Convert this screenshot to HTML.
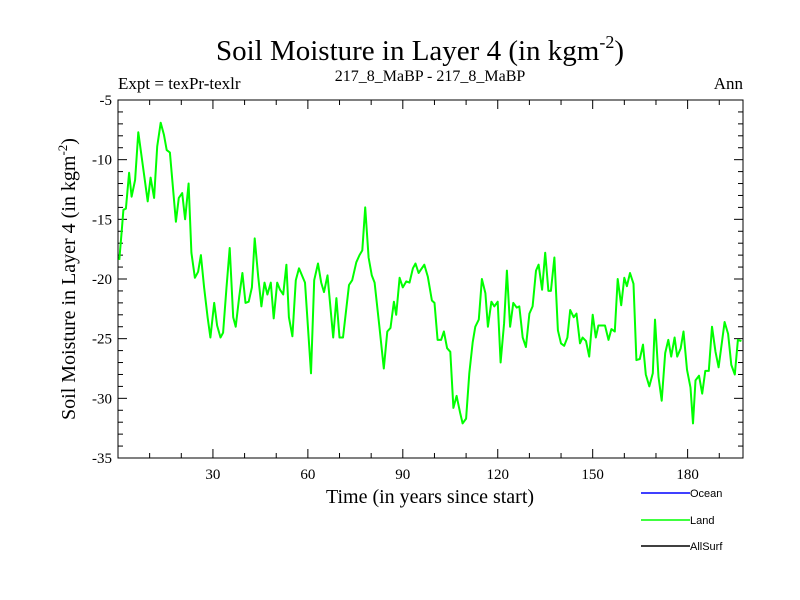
<!DOCTYPE html>
<html><head><meta charset="utf-8"><style>
body{margin:0;background:#fff}
svg{display:block}
text{font-family:"Liberation Serif",serif;fill:#000}
.leg{font-family:"Liberation Sans",sans-serif;font-size:11px}
</style></head><body>
<svg id="chart" width="800" height="600">
<text x="420" y="60" font-size="29" text-anchor="middle">Soil Moisture in Layer 4 (in kgm<tspan font-size="18" dy="-12">-2</tspan><tspan dy="12">)</tspan></text>
<text x="118" y="89" font-size="17">Expt = texPr-texlr</text>
<text x="430" y="81" font-size="16" text-anchor="middle">217_8_MaBP - 217_8_MaBP</text>
<text x="743" y="89" font-size="17" text-anchor="end">Ann</text>
<text transform="translate(75,279) rotate(-90)" font-size="20" text-anchor="middle">Soil Moisture in Layer 4 (in kgm<tspan font-size="13" dy="-8">-2</tspan><tspan dy="8">)</tspan></text>
<text x="430" y="503" font-size="20" text-anchor="middle">Time (in years since start)</text>
<g id="axes"></g>
<g id="series"></g>
<g>
<line x1="641" y1="493" x2="690" y2="493" stroke="#0000ff" stroke-width="1.5"/>
<text class="leg" x="690" y="497">Ocean</text>
<line x1="641" y1="520" x2="690" y2="520" stroke="#00ff00" stroke-width="1.5"/>
<text class="leg" x="690" y="524">Land</text>
<line x1="641" y1="546" x2="690" y2="546" stroke="#000" stroke-width="1.5"/>
<text class="leg" x="690" y="550">AllSurf</text>
</g>
</svg>
<script>
const years=[0.4,1.2,1.7,2.5,3.5,4.3,5.4,6.4,7.5,9.4,10.3,11.4,12.4,13.5,14.5,15.4,16.4,18.3,19.2,20.3,21.2,22.3,23.2,24.3,25.3,26.2,27.2,28.3,29.2,30.4,31.3,32.4,33.2,34.3,35.3,36.4,37.2,38.3,39.3,40.3,41.3,42.3,43.2,44.3,45.3,46.3,47.2,48.3,49.2,50.3,51.2,52.2,53.2,54,55.1,56.2,57.2,59.1,61,62,63.2,64.2,65.1,66.2,68,69,70,71.1,73,74,75.3,76.3,77.2,78.1,79.2,80.2,81.1,82.6,84,85.1,86.1,87.2,87.9,89,90,91.1,92.1,93.2,94,95,96.8,97.9,99.2,100,101,102.1,103,104,105,106,107,108.1,108.9,110,111,112.1,112.9,114,115,116.1,116.9,118,118.9,120,120.9,122,122.9,123.9,124.9,126,126.8,127.9,128.9,130,131,132.1,132.9,134,135,136,136.8,137.9,139,140,141,142,142.9,144,144.9,146,146.8,147.9,148.9,150,151,151.8,152.9,153.9,155,155.9,157,157.9,159,160,160.8,161.8,162.9,163.8,164.9,165.9,166.8,167.9,169,169.7,170.8,171.8,172.9,173.9,174.8,175.9,176.7,177.8,178.7,179.8,180.9,181.7,182.5,183.6,184.6,185.6,186.7,187.7,188.8,189.8,191.7,192.8,193.8,194.9,195.9,197];
const landValues=[-18.4,-15.9,-14.2,-14.1,-11.1,-13.1,-11.7,-7.7,-9.8,-13.5,-11.5,-13.2,-8.9,-6.9,-7.9,-9.2,-9.4,-15.2,-13.2,-12.8,-15,-12,-17.8,-19.9,-19.4,-18,-20.7,-23.2,-24.9,-22,-23.9,-24.9,-24.5,-20.7,-17.4,-23.2,-24,-21.5,-19.5,-22,-21.9,-20.7,-16.6,-19.8,-22.3,-20.3,-21.3,-20.3,-23.3,-20.3,-20.9,-21.3,-18.8,-23.2,-24.8,-20.1,-19.1,-20.3,-27.9,-20.1,-18.7,-20.3,-21.1,-19.7,-24.9,-21.6,-24.9,-24.9,-20.5,-20.1,-18.6,-18,-17.6,-14,-18.2,-19.7,-20.3,-24,-27.5,-24.4,-24.1,-21.9,-23,-19.9,-20.7,-20.2,-20.3,-19.1,-18.7,-19.5,-18.8,-19.8,-21.8,-22,-25.1,-25.1,-24.4,-25.8,-26.1,-30.8,-29.8,-31.2,-32.1,-31.7,-27.9,-25.3,-24,-23.4,-20,-21.2,-24,-21.9,-22.3,-21.9,-27,-23.7,-19.3,-24,-22,-22.4,-22.3,-24.9,-25.7,-22.9,-22.3,-19.3,-18.8,-20.9,-17.8,-21,-21,-18.2,-24.3,-25.4,-25.6,-24.9,-22.6,-23.2,-22.9,-25.4,-24.9,-25.2,-26.5,-23,-24.9,-23.9,-23.9,-23.9,-25.1,-24.2,-24.4,-20,-22.2,-19.9,-20.6,-19.5,-20.4,-26.8,-26.7,-25.5,-28,-29,-27.9,-23.4,-28.2,-30.2,-26.2,-25.1,-26.5,-24.9,-26.5,-25.8,-24.4,-27.6,-29.1,-32.1,-28.5,-28.1,-29.6,-27.7,-27.7,-24,-26.1,-27.4,-23.6,-24.6,-27.2,-28,-25.1,-25.2];
const yTickLabels=[-5,-10,-15,-20,-25,-30,-35];
const xTickLabels=[30,60,90,120,150,180];

const NS="http://www.w3.org/2000/svg";
const L=118,R=743,T=100,B=458,XMIN=0,XMAX=197.5,YMIN=-35,YMAX=-5;
const xs=v=>L+(v-XMIN)/(XMAX-XMIN)*(R-L);
const ys=v=>B-(v-YMIN)/(YMAX-YMIN)*(B-T);
const axes=document.getElementById('axes');
function mk(tag,attrs,parent){const e=document.createElementNS(NS,tag);for(const k in attrs)e.setAttribute(k,attrs[k]);parent.appendChild(e);return e;}
const frame=mk('rect',{x:L,y:T,width:R-L,height:B-T,fill:'none',stroke:'#000','stroke-width':1},axes);


for(let v=10;v<XMAX;v+=10){
  const major=v%30===0,len=major?9:5,x=xs(v);
  const t1=mk('line',{x1:x,y1:B,x2:x,y2:B-len,stroke:'#000'},axes);
  
  
  mk('line',{x1:x,y1:T,x2:x,y2:T+len,stroke:'#000'},axes);
}
xTickLabels.forEach(v=>{
  const t=mk('text',{x:xs(v),y:B+21,'font-size':15,'text-anchor':'middle'},axes);
  t.textContent=v;
  
  
});
for(let v=YMIN+1;v<YMAX;v+=1){
  const major=v%5===0,len=major?9:5,y=ys(v);
  const t1=mk('line',{x1:L,y1:y,x2:L+len,y2:y,stroke:'#000'},axes);
  
  
  mk('line',{x1:R,y1:y,x2:R-len,y2:y,stroke:'#000'},axes);
}
yTickLabels.forEach(v=>{
  const t=mk('text',{x:L-6,y:ys(v)+5,'font-size':15,'text-anchor':'end'},axes);
  t.textContent=v;
  
  
});
const pts=years.map((y,i)=>xs(y).toFixed(1)+','+ys(landValues[i]).toFixed(1)).join(' ');
const line=mk('polyline',{points:pts,fill:'none',stroke:'#00ff00','stroke-width':2,'stroke-linejoin':'round'},document.getElementById('series'));


</script>
</body></html>
